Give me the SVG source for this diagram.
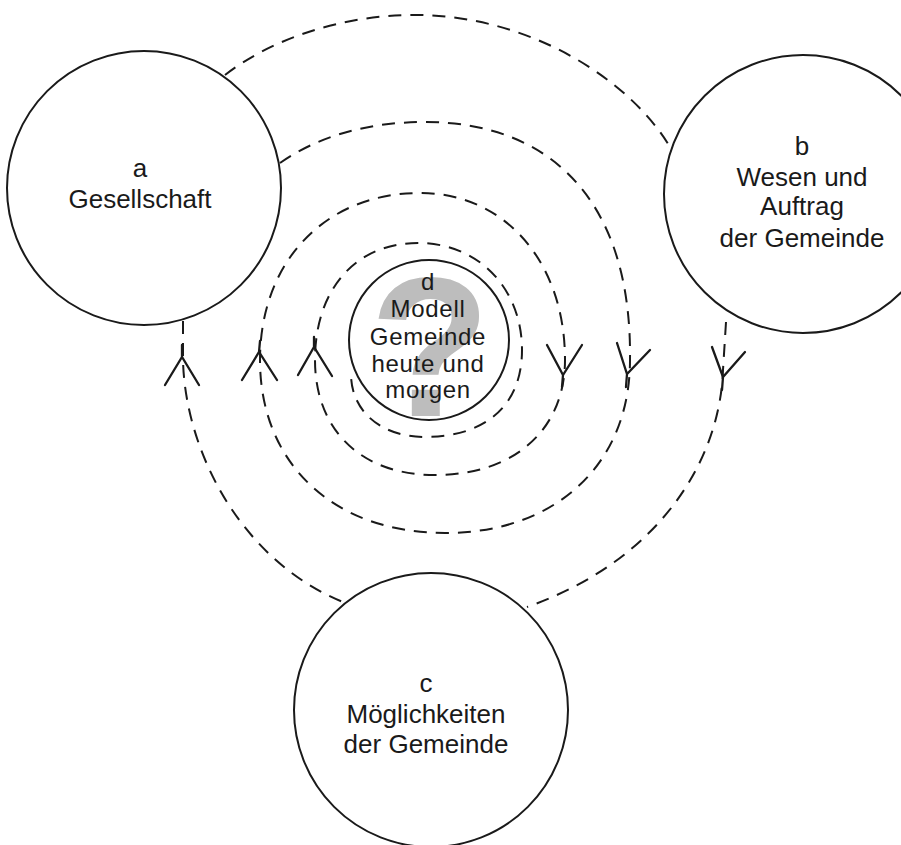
<svg xmlns="http://www.w3.org/2000/svg" width="901" height="845" viewBox="0 0 901 845">
<style>
.node{fill:#fff;stroke:#1a1a1a;stroke-width:2}
.lbl{font-family:"Liberation Sans",Arial,sans-serif;font-size:26px;fill:#1a1a1a;text-anchor:middle}
.sm{font-size:24px;letter-spacing:0.7px}
.dash{fill:none;stroke:#1a1a1a;stroke-width:2;stroke-dasharray:13 9}
.arr{fill:none;stroke:#1a1a1a;stroke-width:2.3;stroke-linecap:round;stroke-linejoin:miter}
.q{font-family:"Liberation Sans",Arial,sans-serif;font-weight:bold;font-size:198px;fill:#bdbdbd;text-anchor:middle}
</style>
<rect width="901" height="845" fill="#fff"/>
<g id="connectors">
<path class="dash" d="M225,75 C270,40 340,15 415,15 C530,15 630,80 670,147"/>
<path class="dash" d="M183,321 L183,360 C185,450 240,560 343,602"/>
<path class="dash" d="M726,322 L723,370 C720,460 660,560 527,607"/>
<path class="dash" d="M280,163 C320,135 370,122 425,122 C550,122 632,200 630,360 C630,464 556,533 445,533 C334,533 260,464 260,360 C260,262 325,193 420,193 C505,193 565,262 565,360 C565,429 515,475 435,475 C360,475 315,429 315,360 C315,290 355,243 418,243 C480,243 522,290 522,350 C522,410 480,437 425,437 C380,437 350,410 351,372"/>
<path class="arr" d="M165,385 L182,357 L199,385 M182,357 L182,345"/>
<path class="arr" d="M242,380 L259,352 L277,380 M259,352 L260,341"/>
<path class="arr" d="M298,375 L314,347 L332,376 M314,347 L314,337"/>
<path class="arr" d="M547,345 L563,375 L582,345 M563,375 L562,387"/>
<path class="arr" d="M617,343 L627,374 L650,350 M627,374 L626,387"/>
<path class="arr" d="M712,347 L723,377 L745,352 M723,377 L722,390"/>
</g>
<g id="node-a">
<circle class="node" cx="144" cy="188" r="137"/>
<text class="lbl" x="140" y="177">a</text>
<text class="lbl" x="140" y="208">Gesellschaft</text>
</g>
<g id="node-b">
<circle class="node" cx="803" cy="194" r="139"/>
<text class="lbl" x="802" y="155">b</text>
<text class="lbl" x="802" y="186">Wesen und</text>
<text class="lbl" x="802" y="215">Auftrag</text>
<text class="lbl" x="802" y="247">der Gemeinde</text>
</g>
<g id="node-c">
<circle class="node" cx="431" cy="710" r="137"/>
<text class="lbl" x="426" y="692">c</text>
<text class="lbl" x="426" y="723">Möglichkeiten</text>
<text class="lbl" x="426" y="753">der Gemeinde</text>
</g>
<g id="node-d">
<circle class="node" cx="429" cy="340" r="80"/>
<text class="q" x="430" y="416">?</text>
<text class="lbl sm" x="428" y="290">d</text>
<text class="lbl sm" x="428" y="317">Modell</text>
<text class="lbl sm" x="428" y="345">Gemeinde</text>
<text class="lbl sm" x="428" y="372">heute und</text>
<text class="lbl sm" x="428" y="398">morgen</text>
</g>
</svg>
